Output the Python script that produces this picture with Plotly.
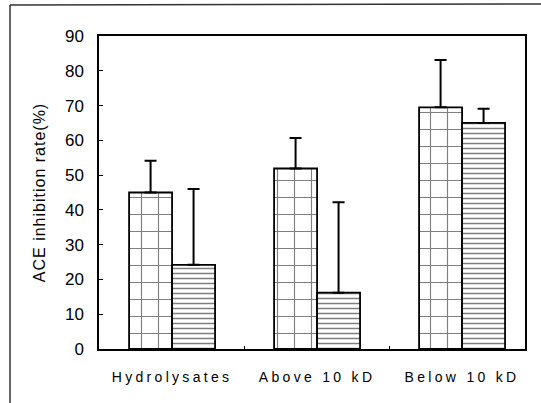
import plotly.graph_objects as go

categories = ["Hydrolysates", "Above 10 kD", "Below 10 kD"]
series1 = [45.0, 51.9, 69.5]
series1_err = [9.1, 8.8, 13.6]
series2 = [24.2, 16.2, 65.0]
series2_err = [21.8, 26.0, 4.1]
yticks = [0, 10, 20, 30, 40, 50, 60, 70, 80, 90]

W, H = 541, 403
ML, MR, MT, MB = 99, 16, 36, 54
PW, PH = W - ML - MR, H - MT - MB

font_family = "Liberation Sans, Arial, Helvetica, sans-serif"

fig = go.Figure()
fig.add_trace(go.Bar(
    x=categories, y=series1, name="Group 1",
    marker=dict(color="white", line=dict(color="black", width=1.8),
                pattern=dict(shape="+", size=17, solidity=0.13,
                             fgcolor="black", bgcolor="white", fillmode="overlay")),
    error_y=dict(type="data", array=series1_err, arrayminus=[0, 0, 0], symmetric=False,
                 color="black", thickness=2, width=6),
))
fig.add_trace(go.Bar(
    x=categories, y=series2, name="Group 2",
    marker=dict(color="white", line=dict(color="black", width=1.8),
                pattern=dict(shape="-", size=5, solidity=0.3,
                             fgcolor="black", bgcolor="white", fillmode="overlay")),
    error_y=dict(type="data", array=series2_err, arrayminus=[0, 0, 0], symmetric=False,
                 color="black", thickness=2, width=6),
))

def px_to_paper_x(px):
    return (px - ML) / PW

def px_to_paper_y(py):
    return (H - MB - py) / PH

fig.update_layout(
    width=W, height=H,
    margin=dict(l=ML, r=MR, t=MT, b=MB, pad=0, autoexpand=False),
    paper_bgcolor="white", plot_bgcolor="white",
    barmode="group", bargap=0.407, bargroupgap=0,
    showlegend=False,
    font=dict(family=font_family, color="black"),
    xaxis=dict(
        type="category", range=[-0.504, 2.434], automargin=False,
        showline=True, linecolor="black", linewidth=1.5, mirror=True,
        ticks="inside", tickson="boundaries", ticklen=3, tickcolor="black",
        tickfont=dict(size=14), showgrid=False, ticklabelstandoff=14,
    ),
    yaxis=dict(
        range=[0, 90], tickvals=yticks, automargin=False,
        showline=True, linecolor="black", linewidth=1.5, mirror=True,
        ticks="inside", ticklen=4, tickcolor="black",
        tickfont=dict(size=17), showgrid=False, zeroline=False,
        ticklabelstandoff=10,
        title=dict(text="ACE inhibition rate(%)", font=dict(size=16)),
    ),
    shapes=[
        dict(type="line", xref="paper", yref="paper",
             x0=px_to_paper_x(10), x1=px_to_paper_x(W), y0=px_to_paper_y(5), y1=px_to_paper_y(4),
             line=dict(color="#333333", width=1.5)),
        dict(type="line", xref="paper", yref="paper",
             x0=px_to_paper_x(10), x1=px_to_paper_x(10), y0=px_to_paper_y(5), y1=px_to_paper_y(H),
             line=dict(color="#333333", width=1.5)),
    ],
)

post = """
var s = document.createElement('style');
s.textContent = 'html, body { margin: 0; padding: 0; overflow: hidden; } .xtick text { letter-spacing: 3.3px; } .ytitle { letter-spacing: 1px; }';
document.head.appendChild(s);
"""
fig.write_html("out.html", post_script=post, config={"displayModeBar": False})
